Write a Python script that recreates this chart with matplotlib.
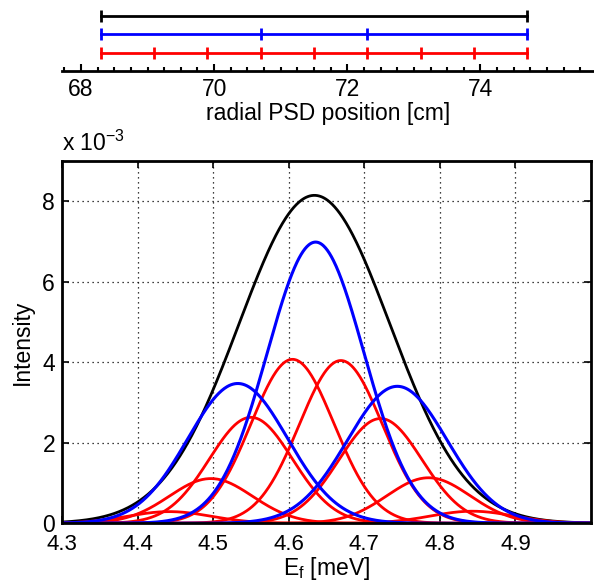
import numpy as np
import matplotlib
matplotlib.use("Agg")
import matplotlib.pyplot as plt
from matplotlib.ticker import MultipleLocator, FixedLocator

plt.rcParams['font.family'] = ['Liberation Sans', 'DejaVu Sans']
plt.rcParams['mathtext.fontset'] = 'custom'
plt.rcParams['mathtext.rm'] = 'Liberation Sans'
plt.rcParams['font.size'] = 16.5

# ---- top panel data: PSD segment boundaries [cm]
black_edges = [68.3, 74.7]
blue_edges = [68.3, 70.7, 72.3, 74.7]
red_edges = [68.3, 69.1, 69.9, 70.7, 71.5, 72.3, 73.1, 73.9, 74.7]
psd_ticks = [68, 70, 72, 74]

# ---- bottom panel data (Gaussian peaks; intensity in 1e-3)
black_center, black_amp, black_sigma = 4.634, 8.14, 0.1
blue_centers = [4.5326, 4.6356, 4.7437]
blue_amps = [3.47, 6.98, 3.40]
blue_sigmas = [0.066, 0.064, 0.066]
red_centers = [4.442, 4.497, 4.550, 4.605, 4.669, 4.7215, 4.785, 4.843]
red_amps = [0.29, 1.11, 2.63, 4.07, 4.04, 2.60, 1.13, 0.30]
red_sigmas = [0.055] * 8
ef_ticks = [4.3, 4.4, 4.5, 4.6, 4.7, 4.8, 4.9]
int_ticks = [0, 2, 4, 6, 8]

W, H = 594, 582
fig = plt.figure(figsize=(W / 100, H / 100), dpi=100)

# ---------------- top axes
L, R = 62 / W, 591 / W
ax1 = fig.add_axes([L, 1 - 71 / H, 1 - L, 71 / H])
ax1.set_xlim(67.715, 67.715 + (75.66 - 67.715) * (1 - L) / (R - L))
ax1.set_ylim(0, 3.84)
for y, edges, c in [(3, black_edges, 'black'), (2, blue_edges, 'blue'), (1, red_edges, 'red')]:
    ax1.plot(edges, [y] * len(edges), color=c, lw=2, marker='|', ms=9, mew=2, clip_on=False)
for s in ['left', 'right', 'top']:
    ax1.spines[s].set_visible(False)
ax1.spines['bottom'].set_linewidth(2)
ax1.set_yticks([])
ax1.xaxis.set_major_locator(FixedLocator(psd_ticks))
ax1.xaxis.set_minor_locator(MultipleLocator(0.25))
ax1.tick_params(axis='x', which='major', direction='in', length=5, width=1.5, pad=5)
ax1.tick_params(axis='x', which='minor', direction='in', length=3, width=1.5)
ax1.set_xlabel('radial PSD position [cm]', labelpad=1)

# ---------------- bottom axes
ax2 = fig.add_axes([L, 1 - 523.3 / H, R - L, (523.3 - 160.7) / H])
x = np.linspace(4.3, 5.0, 800)

def gauss(c, a, s):
    return a * np.exp(-(x - c) ** 2 / (2 * s ** 2))

ax2.plot(x, gauss(black_center, black_amp, black_sigma), color='black', lw=2)
for c, a, s in zip(red_centers, red_amps, red_sigmas):
    ax2.plot(x, gauss(c, a, s), color='red', lw=2)
for c, a, s in zip(blue_centers, blue_amps, blue_sigmas):
    ax2.plot(x, gauss(c, a, s), color='blue', lw=2.2)

ax2.set_xlim(4.3, 5.0)
ax2.set_ylim(0, 9)
ax2.set_xticks(ef_ticks)
ax2.set_xticklabels([f'{t:.1f}' for t in ef_ticks], fontsize=16)
ax2.set_yticks(int_ticks)
ax2.grid(True, linestyle=(0, (1, 3)), color='black', lw=0.9)
ax2.tick_params(direction='in', top=True, right=True, length=5, width=1.2, pad=5)
ax2.tick_params(axis='x', pad=8)
for s in ax2.spines.values():
    s.set_linewidth(2)
ax2.set_ylabel('Intensity', labelpad=6)
fig.text((L + R) / 2, 1 - 575 / H, r'E$_{\mathregular{f}}$ [meV]', ha='center', va='baseline',
         fontsize=16.5)
ax2.text(0.0, 1.012, r'x 10$^{\mathregular{-3}}$', transform=ax2.transAxes,
         ha='left', va='bottom', fontsize=16.5)

fig.savefig('out.png', dpi=100)
